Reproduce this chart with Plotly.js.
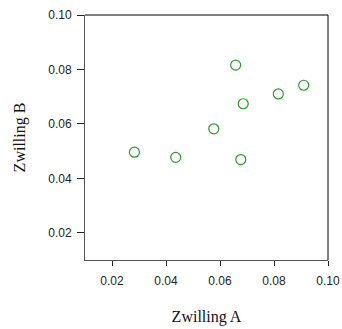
<!DOCTYPE html>
<html>
<head>
<meta charset="utf-8">
<script src="https://cdn.plot.ly/plotly-3.0.1.min.js"></script>
<style>html,body{margin:0;padding:0;background:#fff;}#chart{width:342px;height:329px;}</style>
</head>
<body>
<div id="chart"></div>
<script>
const zwillingA = [0.0283, 0.0436, 0.0577, 0.0658, 0.0677, 0.0686, 0.0816, 0.0910];
const zwillingB = [0.0496, 0.0477, 0.0582, 0.0816, 0.0469, 0.0674, 0.0710, 0.0742];
const tickVals = [0.02, 0.04, 0.06, 0.08, 0.10];
const tickText = ['0.02', '0.04', '0.06', '0.08', '0.10'];

const trace = {
  x: zwillingA, y: zwillingB, type: 'scatter', mode: 'markers',
  marker: {symbol: 'circle-open', size: 10, color: '#2a9a2a', line: {width: 1.2, color: '#2a9a2a'}},
  hoverinfo: 'skip'
};
const tickFont = {family: 'Liberation Sans, Arial, sans-serif', size: 12, color: '#222'};
const titleFont = {family: 'Liberation Serif, Times New Roman, serif', size: 16, color: '#111'};
const layout = {
  width: 342, height: 329,
  margin: {l: 85, r: 14, t: 15, b: 69},
  paper_bgcolor: '#fff', plot_bgcolor: '#fff',
  showlegend: false,
  xaxis: {range: [0.01, 0.10], tickvals: tickVals, ticktext: tickText, ticks: 'outside', ticklen: 5,
    tickcolor: '#222', tickfont: tickFont, showgrid: false, zeroline: false, showline: true,
    linecolor: '#555', linewidth: 1, ticklabelstandoff: 5,
    title: {text: 'Zwilling A', font: titleFont, standoff: 23}},
  yaxis: {range: [0.01, 0.10], tickvals: tickVals, ticktext: tickText, ticks: 'outside', ticklen: 7,
    tickcolor: '#222', tickfont: tickFont, showgrid: false, zeroline: false, showline: true,
    linecolor: '#555', linewidth: 1, ticklabelstandoff: 3,
    title: {text: 'Zwilling B', font: titleFont, standoff: 18}},
  shapes: [
    {type: 'line', xref: 'paper', yref: 'paper', x0: 0, x1: 1, y0: 1, y1: 1, line: {color: '#000', width: 1}},
    {type: 'line', xref: 'paper', yref: 'paper', x0: 1, x1: 1, y0: 0, y1: 1, line: {color: '#000', width: 1}}
  ]
};
Plotly.newPlot('chart', [trace], layout, {staticPlot: true, displayModeBar: false});
</script>
</body>
</html>
